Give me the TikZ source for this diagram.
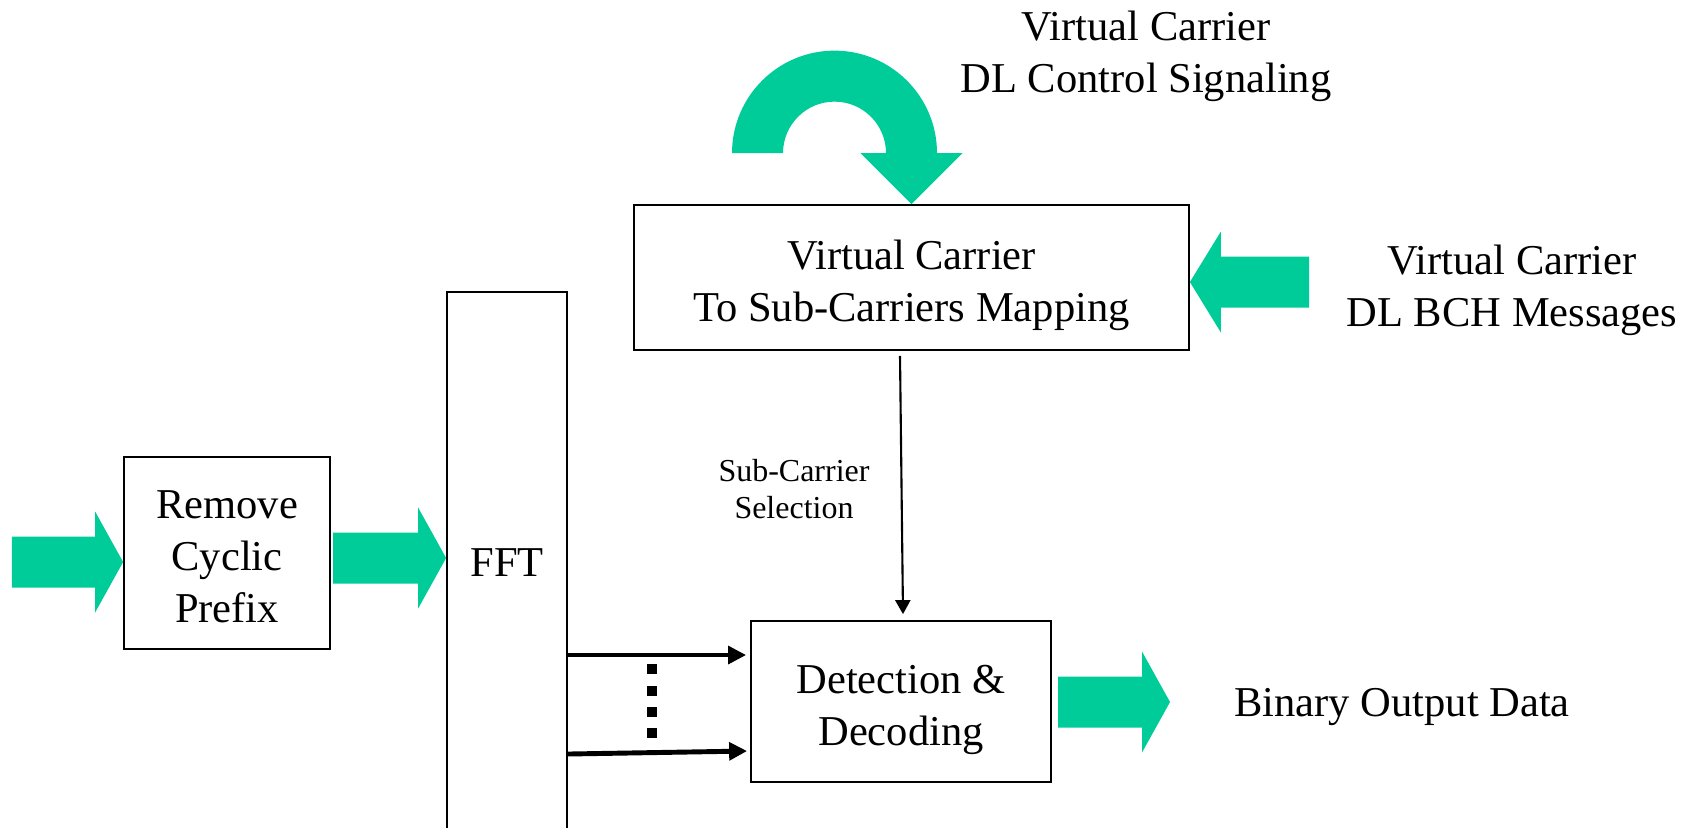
\documentclass[tikz,border=0pt]{standalone}
\usepackage{fontspec}
\setmainfont{Liberation Serif}
\usepackage{xcolor}
\usepackage{tikz}
\usetikzlibrary{positioning,calc,arrows.meta}
\definecolor{vcgreen}{HTML}{00CC99}

% wide green arrow: [head length]{tail coordinate}{node or coordinate the tip touches}
\newcommand{\fatarrow}[3][2.8mm]{%
  \fill[vcgreen] let \p1=(#2), \p2=(#2 -| #3), \p3=($(\p2)!#1!(\p1)$) in
    (\x1,\y1+2.55mm) -- (\x3,\y1+2.55mm) -- (\x3,\y1+5.05mm) -- (\p2)
    -- (\x3,\y1-5.05mm) -- (\x3,\y1-2.55mm) -- (\x1,\y1-2.55mm) -- cycle;}
% taller first line, to set the text a little lower in its box
\newcommand{\upperstrut}[1]{\rule{0pt}{#1}}

\begin{document}
\begin{tikzpicture}[
    block/.style={draw, line width=0.5pt, align=center, inner sep=0pt,
      font=\fontsize{12.1}{14.9}\selectfont},
    label/.style={align=center, inner sep=0pt, font=\fontsize{12.1}{14.9}\selectfont},
    smalllabel/.style={align=center, inner sep=0pt, font=\fontsize{9.1}{10.5}\selectfont},
    busarrow/.style={line width=1.4pt, -{Triangle[length=1.8mm,width=1.75mm]}},
    thinarrow/.style={line width=0.6pt, -{Triangle[length=1.4mm,width=1.5mm]}}]
    \useasboundingbox (0,0) rectangle (16.87,-8.27);

    % Blocks
    \node[block, minimum width=2.06cm, minimum height=1.92cm] (rcp) at (2.27,-5.53) {\upperstrut{10pt}Remove\\Cyclic\\Prefix};
    \node[block, minimum width=1.2cm, minimum height=5.42cm] (fft) at (5.07,-5.63) {FFT};
    \node[block, minimum width=5.55cm, minimum height=1.45cm] (vcmap) at (9.115,-2.775) {\upperstrut{12.8pt}Virtual Carrier\\To Sub-Carriers Mapping};
    \node[block, minimum width=3.0cm, minimum height=1.61cm] (det) at (9.01,-7.015) {\upperstrut{12.8pt}Detection \&\\Decoding};

    % Texts
    \node[label] (ctrl) at (11.46,-0.565) {Virtual Carrier\\DL Control Signaling};
    \node[label] (bch) at (15.12,-2.90) {Virtual Carrier\\DL BCH Messages};
    \node[smalllabel] (sel) at (7.94,-4.89) {Sub-Carrier\\Selection};
    \node[label] (out) at (14.02,-7.07) {Binary Output Data};

    % Green arrows
    \coordinate (intail) at (0.12,-5.62);
    \coordinate (rcptail) at (3.33,-5.58);
    \coordinate (bchtail) at (13.09,-2.82);
    \coordinate (outtail) at (10.58,-7.02);
    \coordinate (outtip) at (11.70,-7.02);
    \fatarrow{intail}{rcp.west}
    \fatarrow{rcptail}{fft.west}
    \fatarrow[3.1mm]{bchtail}{vcmap.east}
    \fatarrow{outtail}{outtip}

    % Curved arrow onto the mapping block
    \fill[vcgreen] ([shift={(-0.51,0.51)}]vcmap.north) -- (vcmap.north) -- ++(0.51,0.51) -- ++(-0.255,0)
      arc[start angle=0, end angle=180, radius=1.025] -- ++(0.51,0)
      arc[start angle=180, end angle=0, radius=0.515] -- cycle;

    % Sub-carrier selection
    \draw[thinarrow] ([xshift=-1.15mm,yshift=-0.5mm]vcmap.south) -- ([xshift=0.2mm,yshift=0.6mm]det.north);

    % FFT outputs
    \draw[busarrow] ($(fft.east |- det.west)+(0,0.465)$) -- ($(det.west)+(-0.04,0.465)$);
    \draw[busarrow] ($(fft.east |- det.west)+(0,-0.525)$) -- ($(det.west)+(-0.03,-0.495)$);
    \foreach \y in {6.69,6.91,7.12,7.33} \fill (6.47,{-\y-0.05}) rectangle ++(0.1,0.1);
\end{tikzpicture}
\end{document}
